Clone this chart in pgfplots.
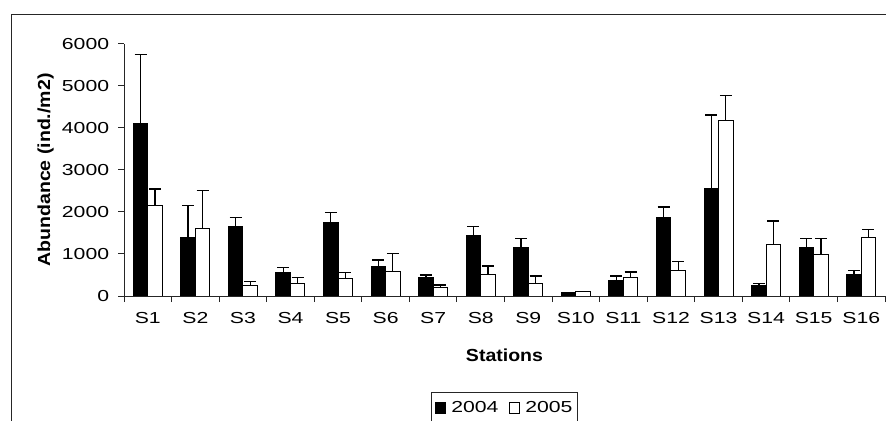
\documentclass[border=0pt]{standalone}
\usepackage{fontspec}
\setmainfont{Liberation Sans}[FakeStretch=1.33]
\newfontfamily\titlefont{Liberation Sans}[FakeStretch=1.12]
\usepackage{pgfplots}
\usepackage{pgfplotstable}
\pgfplotsset{compat=1.18}

% station, mean 2004, sd 2004, mean 2005, sd 2005
\pgfplotstableread{
st  v04  e04   v05  e05
1   4100 1650  2150 400
2   1400 750   1600 920
3   1650 220   240  100
4   560  125   300  145
5   1750 235   410  145
6   700  160   580  440
7   450  50    200  65
8   1440 210   510  205
9   1160 205   300  175
10  80   10    100  10
11  380  95    440  135
12  1880 240   610  215
13  2560 1750  4170 600
14  240  60    1230 555
15  1160 205   990  375
16  510  100   1400 190
}\abund

\newcommand\ticksize{\fontsize{16}{19}\selectfont}
\newcommand\titlesize{\titlefont\bfseries\fontsize{17.5}{20}\selectfont}

\begin{document}
\begin{tikzpicture}
\path[use as bounding box] (0,0) rectangle (886bp,421bp);
\clip (0,0) rectangle (886bp,421bp);
% chart frame
\draw[line width=1bp, black!85] (11bp,-10bp) -- (11bp,406bp) -- (900bp,406bp);
\begin{axis}[
  at={(124bp,125bp)}, anchor=south west,
  scale only axis, width=761bp, height=252bp,
  xmin=0.5, xmax=16.5, ymin=0, ymax=6000,
  axis x line*=bottom, axis y line*=left,
  axis line style={-, black!85, line width=1bp},
  ybar=0pt, bar width=14.5bp,
  xtick={0.5,1.5,...,16.5}, xticklabels={},
  extra x ticks={1,2,...,16},
  extra x tick labels={S1,S2,S3,S4,S5,S6,S7,S8,S9,S10,S11,S12,S13,S14,S15,S16},
  extra x tick style={major tick length=0pt},
  ytick={0,1000,...,6000},
  tick align=outside, major tick length=6bp,
  tick style={black!85, line width=1bp},
  tick label style={font=\ticksize},
  yticklabel style={/pgf/number format/assume math mode=true,
    /pgf/number format/1000 sep={}, anchor=east, inner xsep=0pt, xshift=-8.7bp},
  xticklabel style={anchor=base, yshift=-27.5bp},
  xlabel={Stations},
  xlabel style={at={(axis description cs:0.5,-0.2619)}, anchor=base, font=\titlesize},
  ylabel={Abundance (ind./m2)},
  ylabel style={at={(axis description cs:-0.0972,0.5)}, anchor=base, font=\titlesize},
  legend style={at={(axis description cs:0.5,-0.3798)}, anchor=north,
    legend columns=2, draw=black!85, line width=1bp, fill=white,
    font=\ticksize, inner xsep=3.5bp, inner ysep=7bp,
    /tikz/every odd column/.append style={column sep=4bp},
    /tikz/every even column/.append style={column sep=8bp}},
  error bars/y dir=plus, error bars/y explicit,
  error bars/error mark=|,
  error bars/error mark options={black, mark size=6bp, line width=1.3bp},
  error bars/error bar style={black, line width=1.3bp},
]
\addplot[fill=black, draw=black, line width=1bp,
  legend image code/.code={\draw[fill=black, draw=black, line width=0.8bp] (0bp,-5.5bp) rectangle (10bp,5.5bp);}]
  table[x=st, y=v04, y error=e04] {\abund};
\addplot[fill=white, draw=black, line width=1bp,
  legend image code/.code={\draw[fill=white, draw=black, line width=0.8bp] (0bp,-5.5bp) rectangle (10bp,5.5bp);}]
  table[x=st, y=v05, y error=e05] {\abund};
\legend{2004,2005}
\end{axis}
\end{tikzpicture}
\end{document}
